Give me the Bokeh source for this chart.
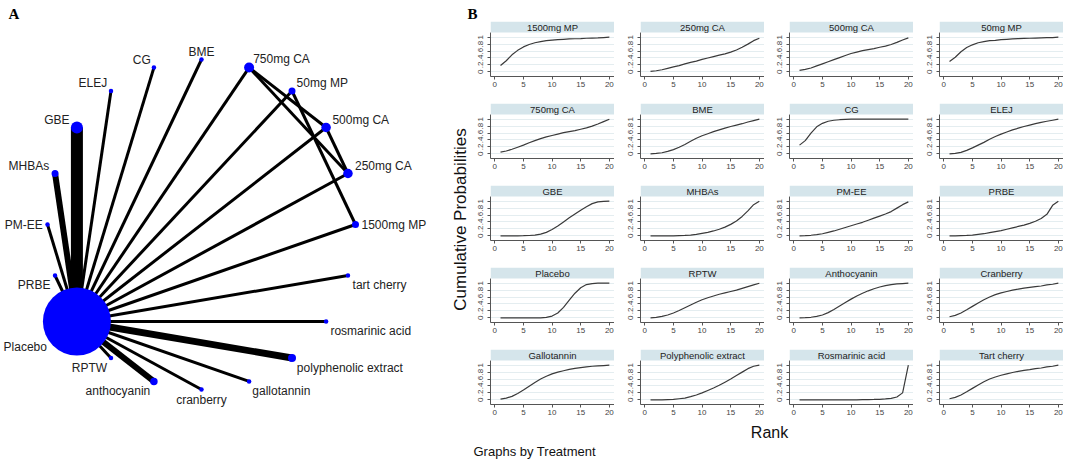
import math
from bokeh.plotting import figure
from bokeh.models import Range1d, BoxAnnotation, Label, FixedTicker, CustomJSTickFormatter
from bokeh.layouts import row, column
from bokeh.embed import file_html
from bokeh.resources import INLINE
from bokeh.core.properties import value

# ---------------- data: network (panel A) ----------------
treatments = ["1500mg MP", "250mg CA", "500mg CA", "50mg MP", "750mg CA", "BME", "CG",
              "ELEJ", "GBE", "MHBAs", "PM-EE", "PRBE", "Placebo", "RPTW", "anthocyanin",
              "cranberry", "gallotannin", "polyphenolic extract", "rosmarinic acid", "tart cherry"]
node_weight = [7, 9.5, 9.5, 7, 10, 4.5, 4.5, 4.5, 12, 7, 4.5, 4.5, 68, 4.5, 7.5,
               4.5, 4.5, 8, 4.5, 4.5]
edge_from = ["Placebo"] * 19 + ["750mg CA", "750mg CA", "500mg CA", "50mg MP"]
edge_to = ["1500mg MP", "250mg CA", "500mg CA", "50mg MP", "750mg CA", "BME", "CG", "ELEJ",
           "GBE", "MHBAs", "PM-EE", "PRBE", "RPTW", "anthocyanin", "cranberry", "gallotannin",
           "polyphenolic extract", "rosmarinic acid", "tart cherry",
           "500mg CA", "250mg CA", "250mg CA", "1500mg MP"]
edge_studies = [1, 1, 1, 1, 1, 1, 1, 1, 4, 2, 1, 1, 1, 2, 1, 1, 2.3, 1, 1, 1, 1, 1, 1]

# ---------------- data: cumulative ranking curves (panel B) ----------------
ranks = list(range(1, 21))
cum_1500mg_MP = [0.18, 0.32, 0.49, 0.62, 0.72, 0.79, 0.84, 0.87, 0.90, 0.915, 0.93, 0.94, 0.95, 0.955, 0.96, 0.97, 0.975, 0.98, 0.99, 1.0]
cum_250mg_CA = [0.01, 0.03, 0.06, 0.10, 0.14, 0.18, 0.23, 0.27, 0.31, 0.36, 0.40, 0.44, 0.48, 0.52, 0.57, 0.63, 0.71, 0.80, 0.90, 0.97]
cum_500mg_CA = [0.04, 0.07, 0.11, 0.17, 0.23, 0.29, 0.35, 0.41, 0.47, 0.53, 0.57, 0.61, 0.64, 0.67, 0.71, 0.74, 0.79, 0.85, 0.92, 0.98]
cum_50mg_MP = [0.30, 0.42, 0.58, 0.70, 0.78, 0.84, 0.87, 0.90, 0.91, 0.93, 0.94, 0.95, 0.96, 0.965, 0.97, 0.975, 0.98, 0.985, 0.99, 1.0]
cum_750mg_CA = [0.05, 0.08, 0.13, 0.19, 0.25, 0.32, 0.38, 0.44, 0.49, 0.53, 0.57, 0.61, 0.64, 0.67, 0.71, 0.75, 0.80, 0.86, 0.93, 1.0]
cum_BME = [0.0, 0.01, 0.03, 0.07, 0.12, 0.19, 0.27, 0.36, 0.45, 0.52, 0.58, 0.64, 0.69, 0.74, 0.79, 0.83, 0.87, 0.92, 0.96, 1.0]
cum_CG = [0.25, 0.38, 0.60, 0.78, 0.88, 0.94, 0.97, 0.985, 0.995, 1.0, 1.0, 1.0, 1.0, 1.0, 1.0, 1.0, 1.0, 1.0, 1.0, 1.0]
cum_ELEJ = [0.0, 0.01, 0.04, 0.10, 0.17, 0.25, 0.33, 0.42, 0.50, 0.57, 0.63, 0.69, 0.74, 0.79, 0.83, 0.87, 0.91, 0.94, 0.97, 1.0]
cum_GBE = [0.0, 0.0, 0.0, 0.0, 0.003, 0.008, 0.02, 0.05, 0.10, 0.18, 0.28, 0.40, 0.52, 0.63, 0.74, 0.84, 0.93, 0.98, 0.995, 1.0]
cum_MHBAs = [0.0, 0.0, 0.0, 0.0, 0.0, 0.005, 0.01, 0.02, 0.04, 0.07, 0.10, 0.14, 0.19, 0.25, 0.33, 0.43, 0.56, 0.72, 0.90, 1.0]
cum_PM_EE = [0.0, 0.005, 0.015, 0.035, 0.06, 0.10, 0.14, 0.19, 0.24, 0.29, 0.34, 0.39, 0.45, 0.51, 0.57, 0.63, 0.70, 0.80, 0.90, 0.98]
cum_PRBE = [0.0, 0.0, 0.005, 0.01, 0.02, 0.04, 0.06, 0.09, 0.12, 0.15, 0.19, 0.23, 0.27, 0.31, 0.36, 0.42, 0.50, 0.62, 0.88, 1.0]
cum_Placebo = [0.0, 0.0, 0.0, 0.0, 0.0, 0.0, 0.0, 0.0, 0.01, 0.05, 0.14, 0.30, 0.51, 0.71, 0.87, 0.96, 0.99, 1.0, 1.0, 1.0]
cum_RPTW = [0.0, 0.01, 0.04, 0.08, 0.14, 0.21, 0.29, 0.37, 0.45, 0.52, 0.58, 0.63, 0.68, 0.72, 0.76, 0.80, 0.85, 0.90, 0.95, 1.0]
cum_Anthocyanin = [0.0, 0.005, 0.015, 0.04, 0.08, 0.15, 0.24, 0.34, 0.44, 0.54, 0.63, 0.71, 0.78, 0.84, 0.89, 0.93, 0.96, 0.98, 0.99, 1.0]
cum_Cranberry = [0.03, 0.07, 0.14, 0.23, 0.33, 0.43, 0.52, 0.60, 0.67, 0.72, 0.76, 0.80, 0.83, 0.86, 0.88, 0.90, 0.92, 0.95, 0.97, 1.0]
cum_Gallotannin = [0.02, 0.05, 0.10, 0.18, 0.28, 0.39, 0.50, 0.60, 0.68, 0.75, 0.80, 0.84, 0.88, 0.91, 0.93, 0.95, 0.97, 0.98, 0.99, 1.0]
cum_Polyphenolic = [0.0, 0.0, 0.0, 0.005, 0.01, 0.03, 0.05, 0.09, 0.14, 0.20, 0.27, 0.34, 0.42, 0.51, 0.60, 0.70, 0.80, 0.90, 0.97, 1.0]
cum_Rosmarinic = [0.0, 0.0, 0.0, 0.0, 0.0, 0.0, 0.0, 0.0, 0.0, 0.0, 0.0, 0.003, 0.006, 0.01, 0.015, 0.025, 0.04, 0.08, 0.20, 1.0]
cum_Tart_cherry = [0.03, 0.07, 0.14, 0.23, 0.33, 0.43, 0.52, 0.60, 0.66, 0.71, 0.75, 0.79, 0.82, 0.85, 0.87, 0.90, 0.92, 0.95, 0.97, 1.0]

panel_names = ["1500mg MP", "250mg CA", "500mg CA", "50mg MP", "750mg CA", "BME", "CG", "ELEJ",
               "GBE", "MHBAs", "PM-EE", "PRBE", "Placebo", "RPTW", "Anthocyanin", "Cranberry",
               "Gallotannin", "Polyphenolic extract", "Rosmarinic acid", "Tart cherry"]
panel_series = [cum_1500mg_MP, cum_250mg_CA, cum_500mg_CA, cum_50mg_MP, cum_750mg_CA, cum_BME,
                cum_CG, cum_ELEJ, cum_GBE, cum_MHBAs, cum_PM_EE, cum_PRBE, cum_Placebo, cum_RPTW,
                cum_Anthocyanin, cum_Cranberry, cum_Gallotannin, cum_Polyphenolic,
                cum_Rosmarinic, cum_Tart_cherry]
y_ticks = [0, 0.2, 0.4, 0.6, 0.8, 1.0]
x_ticks = [0, 5, 10, 15, 20]

SANS = "Liberation Sans"
SERIF = "Liberation Serif"

# ---------------- panel A: network ----------------
L_W, L_H = 448, 460
PX_X, PX_Y = 154.0, 165.0
CX, CY = 201.0, 224.0
L = figure(width=L_W, height=L_H, x_range=Range1d(-CX / PX_X, (L_W - CX) / PX_X),
           y_range=Range1d(-(L_H - CY) / PX_Y, CY / PX_Y),
           x_axis_type=None, y_axis_type=None, toolbar_location=None,
           output_backend="svg", min_border=0, outline_line_color=None, title=None)
n = len(treatments)
ang = [2 * math.pi * i / n for i in range(n)]
nx = [math.cos(a) for a in ang]
ny = [math.sin(a) for a in ang]
idx = {t: i for i, t in enumerate(treatments)}

L.segment(x0=[nx[idx[a]] for a in edge_from], y0=[ny[idx[a]] for a in edge_from],
          x1=[nx[idx[b]] for b in edge_to], y1=[ny[idx[b]] for b in edge_to],
          line_width=[3 * s for s in edge_studies], line_color="black")
L.scatter(nx, ny, size=node_weight, marker="circle", fill_color="#0000ff", line_color=None)

lx, ly, lal = [], [], []
for i, t in enumerate(treatments):
    c, s = math.cos(ang[i]), math.sin(ang[i])
    r = node_weight[i] / 2.0
    if abs(c) < 0.05:
        dx, al = 0.0, "center"
    else:
        dx = math.copysign(2.5 + r * abs(c), c)
        al = "left" if c > 0 else "right"
    if abs(s) < 0.05:
        dy = 0.0
    elif s > 0:
        dy = -(8 + max(0.0, r * s - 4))
    else:
        dy = 10 + max(0.0, r * abs(s) - 4)
    lx.append(nx[i] + dx / PX_X)
    ly.append(ny[i] - dy / PX_Y)
    lal.append(al)
for al in ("left", "right", "center"):
    sel = [k for k in range(n) if lal[k] == al]
    L.text(x=[lx[k] for k in sel], y=[ly[k] for k in sel], text=[treatments[k] for k in sel],
           text_align=al, text_baseline="middle", text_font=value(SANS),
           text_font_size="12px", text_color="#222222")
L.add_layout(Label(x=-CX / PX_X + 8 / PX_X, y=CY / PX_Y - 13 / PX_Y, text="A",
                   text_font=SERIF, text_font_style="bold", text_font_size="15px",
                   text_baseline="alphabetic", text_color="black"))

# ---------------- panel B: small multiples ----------------
XLO, XHI = -0.75, 20.9
YLO, YHI = -0.136, 1.136
STRIP_PX, PLOT_PX = 11, 44
strip_d = STRIP_PX * (YHI - YLO) / PLOT_PX
STRIP_COLOR = "#d5e5eb"
GRID_COLOR = "#e4edf0"
AXIS_COLOR = "#555555"
fmt = CustomJSTickFormatter(code="""
if (Math.abs(tick) < 1e-9) return "0";
if (Math.abs(tick - 1) < 1e-9) return "1";
return tick.toFixed(1).replace(/^0/, "");
""")

col_border = [19, 26, 25, 26]
rows = []
for r_i in range(5):
    figs = []
    for c_i in range(4):
        k = r_i * 4 + c_i
        bl = col_border[c_i]
        bb = 27 if r_i < 4 else 20
        w = 124 + bl
        h = 55 + bb
        p = figure(width=w, height=h, x_range=Range1d(XLO, XHI),
                   y_range=Range1d(YLO, YHI + strip_d), toolbar_location=None,
                   output_backend="svg", min_border_left=bl, min_border_bottom=bb,
                   min_border_top=0, min_border_right=0, outline_line_color=None, title=None)
        p.xgrid.visible = False
        p.ygrid.ticker = FixedTicker(ticks=y_ticks)
        p.ygrid.grid_line_color = GRID_COLOR
        p.ygrid.grid_line_width = 1
        p.yaxis.ticker = FixedTicker(ticks=y_ticks)
        p.yaxis.formatter = fmt
        p.yaxis.major_label_orientation = "vertical"
        p.yaxis.bounds = (YLO, YHI)
        p.xaxis.ticker = FixedTicker(ticks=x_ticks)
        p.xaxis.major_label_standoff = 2
        for ax in (p.xaxis, p.yaxis):
            ax.major_tick_out = 3
            ax.major_tick_in = 0
            ax.minor_tick_out = 0
            ax.minor_tick_in = 0
            ax.axis_line_color = AXIS_COLOR
            ax.major_tick_line_color = AXIS_COLOR
            ax.major_label_text_font = SANS
            ax.major_label_text_font_size = "8px"
            ax.major_label_text_color = "#444444"
        p.yaxis.major_label_standoff = 4
        p.line(ranks, panel_series[k], line_color="#3a3a3a", line_width=1.2)
        p.add_layout(BoxAnnotation(bottom=YHI, fill_color=STRIP_COLOR, fill_alpha=1.0,
                                   line_color=None))
        p.add_layout(Label(x=(XLO + XHI) / 2, y=YHI + strip_d / 2, text=panel_names[k],
                           text_align="center", text_baseline="middle",
                           text_font=SANS, text_font_size="9.5px", text_color="#222222"))
        figs.append(p)
    rows.append(row(*figs))
grid = column(*rows)
GRID_H = 4 * 82 + 75
Y_W = 23
RIGHT_W = Y_W + sum(124 + b for b in col_border)

H = figure(width=RIGHT_W, height=21, x_range=Range1d(0, RIGHT_W), y_range=Range1d(0, 21),
           x_axis_type=None, y_axis_type=None, toolbar_location=None, output_backend="svg",
           min_border=0, outline_line_color=None, title=None)
H.add_layout(Label(x=19, y=8, text="B", text_font=SERIF, text_font_style="bold",
                   text_font_size="15px", text_baseline="alphabetic", text_color="black"))

Y = figure(width=Y_W, height=GRID_H, x_range=Range1d(0, Y_W), y_range=Range1d(0, GRID_H),
           x_axis_type=None, y_axis_type=None, toolbar_location=None, output_backend="svg",
           min_border=0, outline_line_color=None, title=None)
Y.add_layout(Label(x=12, y=GRID_H - 198, text="Cumulative Probabilities", angle=math.pi / 2,
                   text_align="center", text_baseline="middle", text_font=SANS,
                   text_font_size="17px", text_color="#111111"))

F_H = 36
F = figure(width=RIGHT_W, height=F_H, x_range=Range1d(0, RIGHT_W), y_range=Range1d(0, F_H),
           x_axis_type=None, y_axis_type=None, toolbar_location=None, output_backend="svg",
           min_border=0, outline_line_color=None, title=None)
F.add_layout(Label(x=321, y=F_H - 8, text="Rank", text_align="center", text_baseline="middle",
                   text_font=SANS, text_font_size="16px", text_color="#111111"))
F.add_layout(Label(x=25, y=F_H - 27, text="Graphs by Treatment", text_align="left",
                   text_baseline="middle", text_font=SANS, text_font_size="13px",
                   text_color="#111111"))

layout = row(L, column(H, row(Y, grid), F))
open("out.html", "w").write(file_html(layout, INLINE))
